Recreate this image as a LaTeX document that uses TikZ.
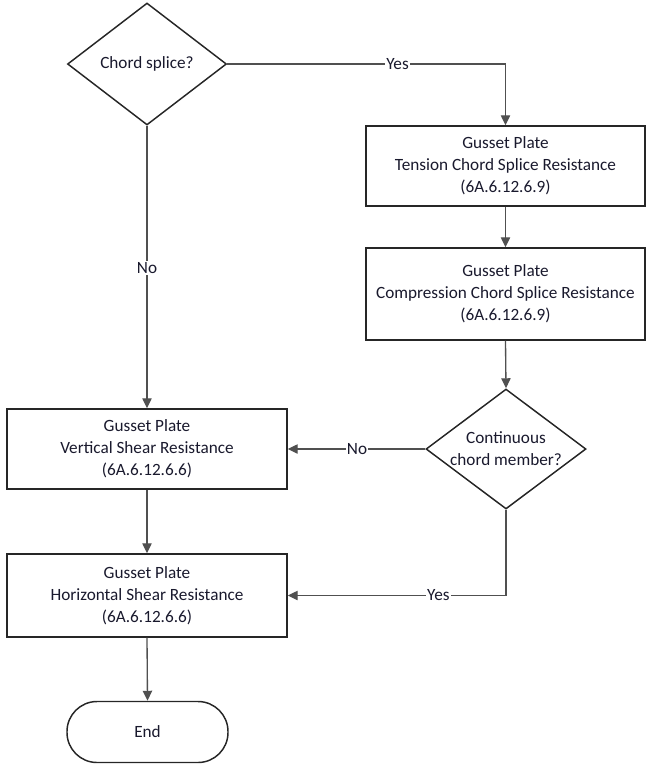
\documentclass[tikz,border=0pt]{standalone}
\usepackage{fontspec}
\setmainfont{Carlito}
\usetikzlibrary{shapes.geometric,arrows.meta}
\definecolor{linegray}{RGB}{80,80,80}
\definecolor{txt}{RGB}{25,25,45}
\tikzset{
  box/.style={draw=black!85, line width=1.1pt, minimum width=279*0.75pt, align=center, inner sep=0pt, font=\fontsize{12.9}{16.5}\selectfont, text=txt},
  dec/.style={draw=black!85, line width=1.1pt, diamond, inner sep=0pt},
  dectext/.style={align=center, inner sep=0pt, font=\fontsize{12.9}{16.5}\selectfont, text=txt},
  term/.style={draw=black!85, line width=1.1pt, rounded corners=30*0.75pt, minimum width=161*0.75pt, minimum height=61*0.75pt, inner sep=0pt, font=\fontsize{12.9}{16.5}\selectfont, text=txt},
  conn/.style={draw=linegray, line width=1pt, -{Triangle[length=7.5pt,width=7pt]}},
  lbl/.style={fill=white, inner sep=1pt, font=\fontsize{12.9}{14}\selectfont, text=txt}
}
\begin{document}
\begin{tikzpicture}[x=0.75pt,y=-0.75pt]
\useasboundingbox (0,0) rectangle (646,765);
\node[dec, minimum width=159*0.75pt, minimum height=122*0.75pt] (d1) at (147,64) {};
\node[dectext] (d1t) at (d1.center) {Chord splice?};
\node[box, minimum height=80*0.75pt] (ten) at (505.5,166) {Gusset Plate\\Tension Chord Splice Resistance\\(6A.6.12.6.9)};
\node[box, minimum height=92*0.75pt] (comp) at (505.5,294) {Gusset Plate\\Compression Chord Splice Resistance\\(6A.6.12.6.9)};
\node[dec, minimum width=160*0.75pt, minimum height=120*0.75pt] (d2) at (506,449) {};
\node[dectext] (d2t) at (d2.center) {Continuous\\chord member?};
\node[box, minimum width=280*0.75pt, minimum height=80*0.75pt] (vert) at (147,449) {Gusset Plate\\Vertical Shear Resistance\\(6A.6.12.6.6)};
\node[box, minimum width=280*0.75pt, minimum height=83*0.75pt] (hor) at (147,595.5) {Gusset Plate\\Horizontal Shear Resistance\\(6A.6.12.6.6)};
\node[term] (end) at (147.5,732) {End};
\draw[conn] (d1.east) -| node[lbl, pos=0.306] {Yes} (ten.north);
\draw[conn] (d1.south) -- node[lbl, pos=0.503] {No} (vert.north);
\draw[conn] (ten.south) -- (comp.north);
\draw[conn] (comp.south) -- (d2.north);
\draw[conn] (d2.west) -- node[lbl, pos=0.496] {No} (vert.east);
\draw[conn] (d2.south) |- node[lbl, pos=0.655] {Yes} (hor.east);
\draw[conn] (vert.south) -- (hor.north);
\draw[conn] (hor.south) -- (end.north);
\end{tikzpicture}
\end{document}
